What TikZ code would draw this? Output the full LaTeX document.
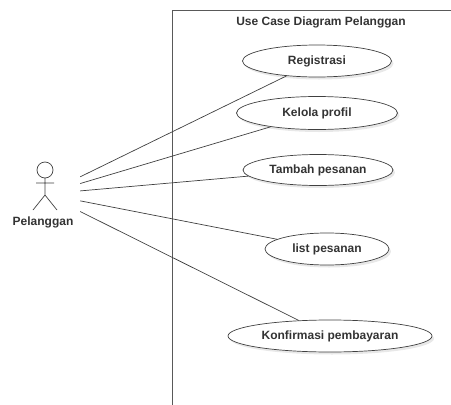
\documentclass[tikz,border=0pt]{standalone}
\usepackage{fontspec}
\setmainfont{Liberation Sans}
\usepackage{tikz}
\usetikzlibrary{shapes.geometric,shadows}

\begin{document}
\begin{tikzpicture}[x=1pt,y=-1pt,
  font=\fontsize{12}{14}\selectfont\bfseries,
  usecase/.style={ellipse, draw=black!75, fill=white, line width=0.7pt, inner sep=0pt,
    text=black!80, drop shadow={shadow xshift=2pt, shadow yshift=-2.5pt, fill=black!18}},
  assoc/.style={draw=black!75, line width=0.7pt}]
  \useasboundingbox (0,0) rectangle (451,405);
  \draw[black!65, line width=0.7pt] (451,10) -- (172,10) -- (172,405);
  \node[text=black!80] (title) at (321,22) {Use Case Diagram Pelanggan};
  \node[minimum width=70pt, minimum height=68pt, inner sep=0pt] (pelanggan) at (45,194) {};
  \draw[black!75, line width=0.7pt] (45,170) circle (8pt)
    (45,178) -- (45,195) (36,183) -- (54,183)
    (33,210) -- (45,195) -- (57,210);
  \node[text=black!80] (pelangganlabel) at (43,222) {Pelanggan};
  \node[usecase, minimum width=149pt, minimum height=32pt] (reg) at (317,61) {Registrasi};
  \node[usecase, minimum width=161pt, minimum height=33pt] (profil) at (317,113) {Kelola profil};
  \node[usecase, minimum width=150pt, minimum height=31pt] (tambah) at (318,170) {Tambah pesanan};
  \node[usecase, minimum width=124pt, minimum height=32pt] (list) at (327,249) {list pesanan};
  \node[usecase, minimum width=204pt, minimum height=32pt] (konfirmasi) at (330,336) {Konfirmasi pembayaran};
  \path[assoc]
  (pelanggan) edge (reg)
  (pelanggan) edge (profil)
  (pelanggan) edge (tambah)
  (pelanggan) edge (list)
  (pelanggan) edge (konfirmasi)
  ;
\end{tikzpicture}
\end{document}
